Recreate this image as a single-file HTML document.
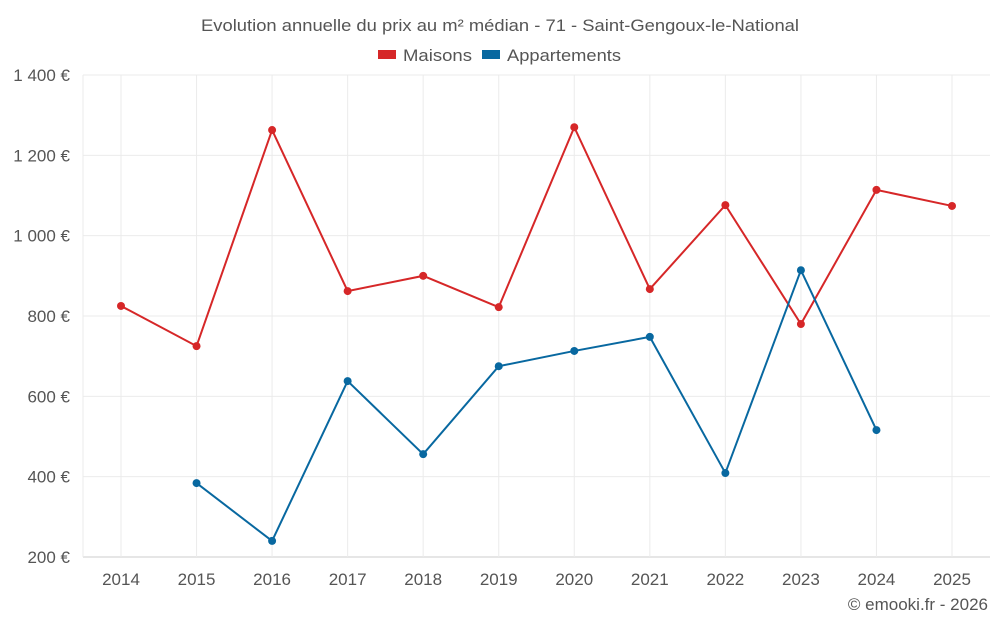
<!DOCTYPE html>
<html><head><meta charset="utf-8"><style>
body{margin:0;background:#fff;font-family:"Liberation Sans",sans-serif;}
svg text{font-family:"Liberation Sans",sans-serif;fill:#555;}
</style></head><body>
<svg id="c" width="1000" height="625">
<text x="201" y="31" font-size="17" textLength="598" lengthAdjust="spacingAndGlyphs">Evolution annuelle du prix au m² médian - 71 - Saint-Gengoux-le-National</text>
<g>
<rect x="378" y="50" width="18" height="9" fill="#d62728"/>
<text x="403" y="61" font-size="17" textLength="69" lengthAdjust="spacingAndGlyphs">Maisons</text>
<rect x="482" y="50" width="18" height="9" fill="#0868a0"/>
<text x="507" y="61" font-size="17" textLength="114" lengthAdjust="spacingAndGlyphs">Appartements</text>
</g>
<g id="grid"></g><g id="axes"></g><g id="series"></g>
<text x="988" y="610" text-anchor="end" font-size="17">© emooki.fr - 2026</text>
</svg>
<script>
const years=[2014,2015,2016,2017,2018,2019,2020,2021,2022,2023,2024,2025];
const maisons=[825,725,1263,862,900,822,1270,867,1076,780,1114,1074];
const appartements=[null,384,240,638,456,675,713,748,409,914,516,null];
const yTicks=[200,400,600,800,1000,1200,1400];
const yTickLabels=["200 €","400 €","600 €","800 €","1 000 €","1 200 €","1 400 €"];
const NS="http://www.w3.org/2000/svg";
const L=83,R=990,T=75,B=557;
function x(i){return 121+i*(952-121)/(years.length-1);}
function y(v){return B-(v-200)*(B-T)/1200;}
function mk(tag,attrs,parent){const e=document.createElementNS(NS,tag);for(const k in attrs)e.setAttribute(k,attrs[k]);document.getElementById(parent).appendChild(e);return e;}
yTicks.forEach((v,i)=>{
 const g=mk('line',{x1:L,x2:R,y1:y(v),y2:y(v),stroke:i==0?'#ccc':'#ebebeb'},'grid');
 
 
 const t=mk('text',{x:70,y:y(v)+6,'text-anchor':'end','font-size':17},'axes');
 t.textContent=yTickLabels[i];
 
 
});
const v0=mk('line',{x1:L,x2:L,y1:T,y2:B,stroke:'#ebebeb'},'grid');


years.forEach((yr,i)=>{
 const g=mk('line',{x1:x(i),x2:x(i),y1:T,y2:B,stroke:'#ebebeb'},'grid');
 
 
 const t=mk('text',{x:x(i),y:585,'text-anchor':'middle','font-size':17},'axes');
 t.textContent=yr;
 
 
});
function draw(data,color,name){
 let d='';data.forEach((v,i)=>{if(v==null)return;d+=(d?'L':'M')+x(i)+','+y(v);});
 const p=mk('path',{d:d,fill:'none',stroke:color,'stroke-width':2},'series');
 
 
 data.forEach((v,i)=>{if(v==null)return;
  const c=mk('circle',{cx:x(i),cy:y(v),r:4,fill:color},'series');
  
  
 });
}
draw(maisons,'#d62728','maisons');
draw(appartements,'#0868a0','appartements');
</script>
</body></html>
